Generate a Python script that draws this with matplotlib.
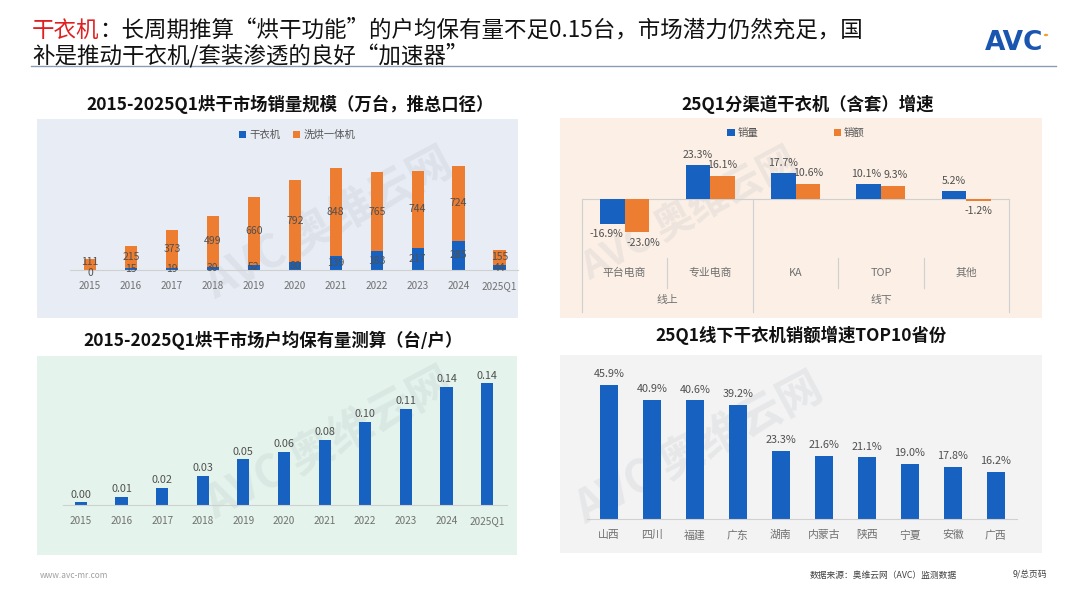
import matplotlib
matplotlib.use("Agg")
import matplotlib.pyplot as plt
from matplotlib.patches import Rectangle, Circle
from matplotlib.lines import Line2D
import matplotlib.transforms as mtransforms

plt.rcParams['font.family'] = ['Noto Sans CJK SC', 'DejaVu Sans']

# ---------------- data ----------------
years = ['2015', '2016', '2017', '2018', '2019', '2020', '2021', '2022', '2023', '2024', '2025Q1']
dryer_units = [0, 15, 19, 30, 52, 80, 139, 183, 217, 285, 44]
washdry_units = [111, 215, 373, 499, 660, 792, 848, 765, 744, 724, 155]
legend1 = ['干衣机', '洗烘一体机']

channels = ['平台电商', '专业电商', 'KA', 'TOP', '其他']
channel_groups = ['线上', '线下']
group_spans = [2, 3]
growth_volume = [-16.9, 23.3, 17.7, 10.1, 5.2]
growth_amount = [-23.0, 16.1, 10.6, 9.3, -1.2]
legend2 = ['销量', '销额']

ownership = [0.003, 0.010, 0.020, 0.034, 0.054, 0.063, 0.077, 0.098, 0.114, 0.140, 0.144]

provinces = ['山西', '四川', '福建', '广东', '湖南', '内蒙古', '陕西', '宁夏', '安徽', '广西']
province_growth = [45.9, 40.9, 40.6, 39.2, 23.3, 21.6, 21.1, 19.0, 17.8, 16.2]

# ---------------- style ----------------
BLUE = '#1761C0'
ORANGE = '#ED7D31'
LBL = '#505050'
TICK = '#707070'
AXLINE = '#D0D0D0'

W, H = 1080, 608
fig = plt.figure(figsize=(W / 100, H / 100), dpi=100)
fig.patch.set_facecolor('white')


def fbox(x0, y0, x1, y1):
    return [x0 / W, 1 - y1 / H, (x1 - x0) / W, (y1 - y0) / H]


def fx(x):
    return x / W


def fy(y):
    return 1 - y / H


def panel(x0, y0, x1, y1, color):
    fig.patches.append(Rectangle((fx(x0), fy(y1)), (x1 - x0) / W, (y1 - y0) / H,
                                 transform=fig.transFigure, facecolor=color,
                                 edgecolor='none', zorder=-5))


def clean(ax):
    ax.patch.set_alpha(0)
    for s in ['top', 'right', 'left']:
        ax.spines[s].set_visible(False)
    ax.spines['bottom'].set_color(AXLINE)
    ax.spines['bottom'].set_linewidth(0.8)
    ax.set_yticks([])
    ax.tick_params(axis='x', length=0, colors=TICK, labelsize=7.2)


# ---------------- header ----------------
renderer = fig.canvas.get_renderer()
HFS = 16.2
t_red = fig.text(fx(32), fy(30), '干衣机', color='#E02020', fontsize=HFS,
                 va='center', ha='left')
bb = t_red.get_window_extent(renderer=renderer)
fig.text(fx(32) + bb.width / W, fy(30),
         '：长周期推算“烘干功能”的户均保有量不足0.15台，市场潜力仍然充足，国',
         color='#111111', fontsize=HFS, va='center', ha='left')
fig.text(fx(32), fy(55), '补是推动干衣机/套装渗透的良好“加速器”',
         color='#111111', fontsize=HFS, va='center', ha='left')
fig.add_artist(Line2D([fx(31), fx(1056)], [fy(66), fy(66)], color='#8A9DB3',
                      lw=1.0, transform=fig.transFigure))
fig.text(fx(1014), fy(43), 'AVC', color='#1A55B0', fontsize=19, fontweight='bold',
         ha='center', va='center', family=['DejaVu Sans'])
fig.patches.append(Circle((fx(1046), fy(35)), 2.2 / W, transform=fig.transFigure,
                          facecolor='#F0A030', edgecolor='none'))

# ---------------- panels ----------------
panel(37, 119, 518, 318, '#E8EDF5')
panel(560, 118, 1042, 318, '#FBEFE6')
panel(37, 356, 517, 555, '#E4F4EC')
panel(560, 355, 1042, 553, '#F3F3F3')

title_kw = dict(fontsize=12.5, fontweight='bold', color='#111111', ha='center', va='center')
fig.text(fx(290), fy(104), '2015-2025Q1烘干市场销量规模（万台，推总口径）', **title_kw)
fig.text(fx(808), fy(104), '25Q1分渠道干衣机（含套）增速', **title_kw)
fig.text(fx(273), fy(340), '2015-2025Q1烘干市场户均保有量测算（台/户）', **title_kw)
fig.text(fx(801), fy(335), '25Q1线下干衣机销额增速TOP10省份', **title_kw)

# ---------------- watermarks ----------------
wm_kw = dict(color='#9AA0A8', alpha=0.14, fontweight='bold', ha='center',
             va='center', rotation=28, zorder=-1)
fig.text(fx(330), fy(225), 'AVC 奥维云网', fontsize=32, **wm_kw)
fig.text(fx(690), fy(215), 'AVC 奥维云网', fontsize=28, **wm_kw)
fig.text(fx(330), fy(445), 'AVC 奥维云网', fontsize=32, **wm_kw)
fig.text(fx(700), fy(450), 'AVC 奥维云网', fontsize=32, **wm_kw)

# ---------------- chart 1: stacked bars ----------------
ax1 = fig.add_axes(fbox(70, 150, 518, 270))
clean(ax1)
x1 = list(range(len(years)))
b1 = ax1.bar(x1, dryer_units, width=0.3, color=BLUE, label=legend1[0], zorder=2)
b2 = ax1.bar(x1, washdry_units, width=0.3, bottom=dryer_units, color=ORANGE,
             label=legend1[1], zorder=2)
l1 = ax1.bar_label(b1, labels=[str(v) for v in dryer_units], label_type='center',
                   fontsize=7.5, color=LBL, zorder=3)
l2 = ax1.bar_label(b2, labels=[str(v) for v in washdry_units], label_type='center',
                   fontsize=7.5, color=LBL, zorder=3)
ax1.set_xlim(-0.49, 10.45)
ax1.set_ylim(0, 120 / 0.103)
ax1.set_xticks(x1)
ax1.set_xticklabels(years)
ax1.tick_params(axis='x', pad=8)
fig.legend(handles=[b1, b2], labels=legend1, loc='center',
           bbox_to_anchor=(fx(297), fy(135)), ncol=2, frameon=False,
           fontsize=7.5, handlelength=0.7, handleheight=0.7, columnspacing=1.2,
           handletextpad=0.3, labelcolor='#555555')
# spread stacked labels that collide (tiny segments)
for ta, tb in zip(l1, l2):
    ea = ta.get_window_extent(renderer=renderer)
    eb = tb.get_window_extent(renderer=renderer)
    ov = ea.y1 - eb.y0
    if ov > 0:
        d = (ov + 1) / 2 * 72 / 100
        ta.xyann = (ta.xyann[0], ta.xyann[1] - d)
        tb.xyann = (tb.xyann[0], tb.xyann[1] + d)

# ---------------- chart 2: channel growth ----------------
ax2 = fig.add_axes(fbox(582, 150, 1009, 312))
ax2.patch.set_alpha(0)
for s in ax2.spines.values():
    s.set_visible(False)
ax2.set_xticks([])
ax2.set_yticks([])
ylo, yhi = -(312 - 199) / 1.45, (199 - 150) / 1.45
ax2.set_ylim(ylo, yhi)
ax2.set_xlim(-0.5, len(channels) - 0.5)
xc = list(range(len(channels)))
bw = 0.287
bv = ax2.bar([i - bw / 2 for i in xc], growth_volume, width=bw, color=BLUE,
             label=legend2[0], zorder=2)
ba = ax2.bar([i + bw / 2 for i in xc], growth_amount, width=bw, color=ORANGE,
             label=legend2[1], zorder=2)
lab_v = ax2.bar_label(bv, labels=[f'{b.get_height():.1f}%' for b in bv],
                      padding=4, fontsize=7.6, color=LBL)
lab_a = ax2.bar_label(ba, labels=[f'{b.get_height():.1f}%' for b in ba],
                      padding=4, fontsize=7.6, color=LBL)
ax2.axhline(0, color=AXLINE, lw=0.8, zorder=1)
trans2 = mtransforms.blended_transform_factory(ax2.transData, ax2.transAxes)
zero_frac = (0 - ylo) / (yhi - ylo)
for i, c in enumerate(channels):
    ax2.text(i, (312 - 273) / 162, c, transform=trans2, ha='center', va='center',
             fontsize=7.8, color=TICK)
start = 0
bounds = [-0.5]
for n in group_spans:
    start += n
    bounds.append(start - 0.5)
for bx in bounds:
    ax2.plot([bx, bx], [0, zero_frac], transform=trans2, color=AXLINE, lw=0.8,
             clip_on=False)
for bx in [i + 0.5 for i in range(len(channels) - 1)]:
    if bx not in bounds:
        ax2.plot([bx, bx], [(312 - 288) / 162, (312 - 258) / 162], transform=trans2,
                 color=AXLINE, lw=0.8, clip_on=False)
gstart = 0
for g, n in zip(channel_groups, group_spans):
    ax2.text(gstart + (n - 1) / 2, (312 - 300) / 162, g, transform=trans2,
             ha='center', va='center', fontsize=7.8, color=TICK)
    gstart += n
fig.legend(handles=[bv, ba], labels=legend2, loc='center',
           bbox_to_anchor=(fx(796), fy(133)), ncol=2, frameon=False,
           fontsize=7.5, handlelength=0.7, handleheight=0.7, columnspacing=7.2,
           handletextpad=0.3, labelcolor='#555555')

# nudge overlapping paired labels apart (as the source chart does)
for tv, ta in zip(lab_v, lab_a):
    ev = tv.get_window_extent(renderer=renderer)
    ea = ta.get_window_extent(renderer=renderer)
    vert_overlap = min(ev.y1, ea.y1) - max(ev.y0, ea.y0)
    horiz_overlap = ev.x1 - ea.x0
    if vert_overlap > 0 and horiz_overlap > -2:
        shift = (horiz_overlap + 3) / 2 * 72 / 100
        tv.xyann = (tv.xyann[0] - shift, tv.xyann[1])
        ta.xyann = (ta.xyann[0] + shift, ta.xyann[1])

# ---------------- chart 3: ownership ----------------
ax3 = fig.add_axes(fbox(63, 370, 507, 505))
clean(ax3)
x3 = list(range(len(years)))
b3 = ax3.bar(x3, ownership, width=0.3, color=BLUE, zorder=2)
ax3.bar_label(b3, labels=[f'{v:.2f}' for v in ownership], padding=2,
              fontsize=7.8, color=LBL)
ax3.set_xlim(-0.44, 10.49)
ax3.set_ylim(0, 135 / 845)
ax3.set_xticks(x3)
ax3.set_xticklabels(years)
ax3.tick_params(axis='x', pad=8)

# ---------------- chart 4: provinces ----------------
ax4 = fig.add_axes(fbox(587, 370, 1017, 519))
clean(ax4)
x4 = list(range(len(provinces)))
b4 = ax4.bar(x4, province_growth, width=0.4, color=BLUE, zorder=2)
ax4.bar_label(b4, labels=[f'{v:.1f}%' for v in province_growth], padding=4,
              fontsize=7.8, color=LBL)
ax4.set_xlim(-0.51, 9.49)
ax4.set_ylim(0, 149 / 2.92)
ax4.set_xticks(x4)
ax4.set_xticklabels(provinces)
ax4.tick_params(axis='x', pad=8, labelsize=7.8)

# ---------------- footer ----------------
fig.text(fx(40), fy(575), 'www.avc-mr.com', fontsize=6, color='#A0A0A0',
         ha='left', va='center')
fig.text(fx(810), fy(575), '数据来源：奥维云网（AVC）监测数据', fontsize=6.3,
         color='#404040', ha='left', va='center')
fig.text(fx(1047), fy(575), '9/总页码', fontsize=6.3, color='#404040',
         ha='right', va='center')

fig.savefig('out.png', dpi=100)
